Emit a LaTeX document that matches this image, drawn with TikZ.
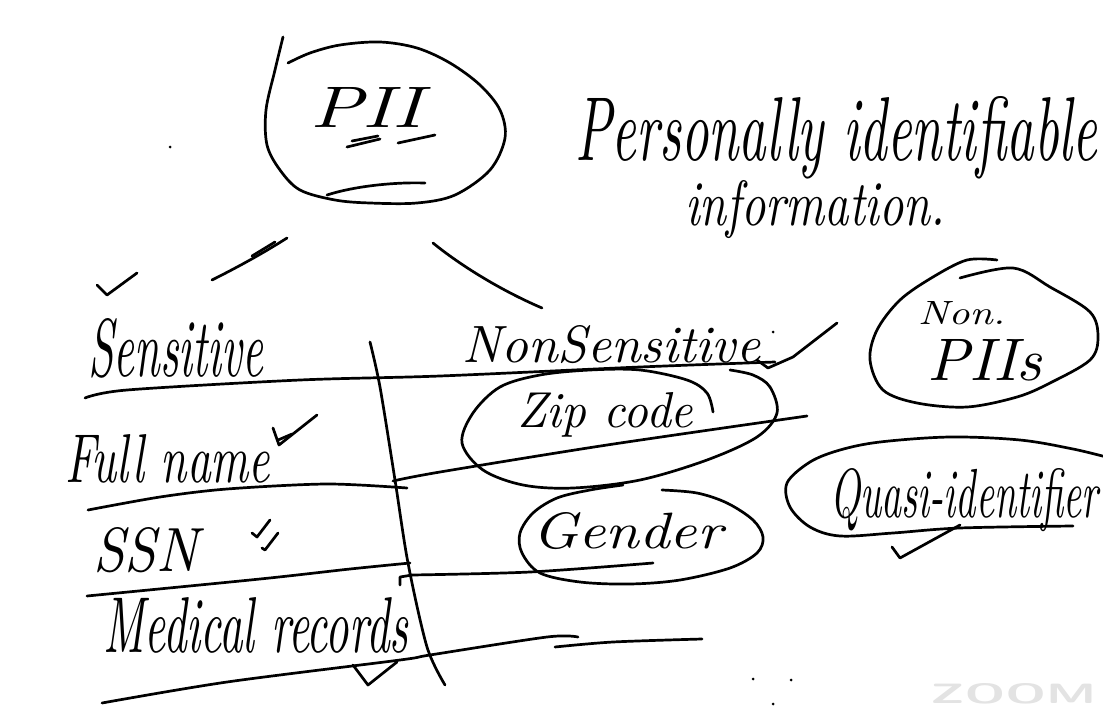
\documentclass[tikz,border=0pt]{standalone}
\usepackage{graphicx}
\usetikzlibrary{positioning}
% word fitted into a box of given width and height (pt)
\newcommand{\scrib}[3]{\resizebox{#1pt}{#2pt}{#3}}
\tikzset{
  ink/.style={line width=2.7pt, line cap=round, line join=round, black},
  word/.style={anchor=base west, inner sep=0pt, font=\itshape},
  wmark/.style={anchor=base west, inner sep=0pt, font=\sffamily\bfseries, text=gray!22},
  speck/.style={fill=black, radius=1.5pt},
}
\begin{document}
\begin{tikzpicture}[x=1pt, y=-1pt]
  \path[use as bounding box, fill=white] (0,0) rectangle (1103,712);
  \clip (0,0) rectangle (1103,712);

  % PII bubble
  \draw[ink] plot[smooth, tension=.55] coordinates {(283,37) (275,70) (266,110) (267,145) (280,170)
    (300,190) (335,200) (370,203) (417,203) (455,195) (490,170) (505,138) (500,110) (480,85)
    (450,63) (417,48) (380,42) (340,45) (310,53) (288,63)};
  \draw[ink] (327,195) .. controls (355,186) and (395,182) .. (425,183);
  \node[word] (pii) at (310,127) {\scrib{112}{40}{PII}};
  \draw[ink] (347,147) -- (380,139);
  \draw[ink] (352,141) -- (378,136);
  \draw[ink] (398,143) -- (435,135);
  \fill[speck] (170,147) circle;

  \node[word] (full) at (575,160) {\scrib{522}{64}{Personally identifiable}};
  \node[word] (info) at (685,225) {\scrib{260}{45}{information.}};

  % branches
  \draw[ink] (212,280) .. controls (240,266) and (265,252) .. (287,238);
  \draw[ink] (252,256) -- (275,242);
  \draw[ink] (97,285) -- (107,295) -- (137,273);
  \draw[ink] (433,243) .. controls (460,265) and (500,290) .. (542,308);

  % table
  \node[word] (sens) at (88,376) {\scrib{175}{58}{Sensitive}};
  \node[word] (nons) at (462,362) {\scrib{298}{37}{NonSensitive}};
  \fill[speck] (773,332) circle;
  \draw[ink] (757,360) -- (768,368) -- (793,357) -- (837,323);
  \draw[ink] plot[smooth] coordinates {(85,398) (127,390) (300,380) (440,376) (640,367) (775,362)};
  \draw[ink] plot[smooth] coordinates {(370,342) (380,387) (395,480) (408,563) (427,647) (445,685)};

  \node[word] (fname) at (65,482) {\scrib{205}{48}{Full name}};
  \draw[ink] (273,428) -- (279,445) -- (317,415);
  \draw[ink] (278,440) -- (292,434);
  \draw[ink] plot[smooth] coordinates {(88,510) (160,497) (227,489) (327,484) (407,488)};
  \draw[ink] plot[smooth] coordinates {(393,481) (440,472) (607,445) (807,416)};

  \node[word] (ssn) at (93,571) {\scrib{105}{44}{SSN}};
  \draw[ink] (252,533) -- (257,537) -- (270,520);
  \draw[ink] (262,548) -- (265,550) -- (278,533);
  \draw[ink] plot[smooth] coordinates {(87,596) (260,579) (350,569) (410,563)};
  \draw[ink] (400,585) -- (400,577) -- (412,575);
  \draw[ink] plot[smooth] coordinates {(412,575) (530,572) (653,563)};

  \node[word] (med) at (103,652) {\scrib{305}{55}{Medical records}};
  \draw[ink] (353,665) -- (368,685) -- (397,662);
  \draw[ink] plot[smooth] coordinates {(102,703) (227,682) (400,660) (430,655) (547,637) (578,637)};
  \draw[ink] plot[smooth] coordinates {(555,647) (613,642) (702,639)};

  % Zip code bubble
  \node[word] (zip) at (517,427) {\scrib{176}{35}{Zip code}};
  \draw[ink] plot[smooth, tension=.55] coordinates {(713,412) (707,393) (687,380) (640,370) (590,370)
    (540,375) (500,387) (473,413) (462,443) (483,470) (523,485) (573,488) (640,480) (707,460)
    (757,437) (777,413) (770,387) (753,375) (730,370)};

  % Gender bubble
  \node[word] (gen) at (532,548) {\scrib{190}{36}{Gender}};
  \draw[ink] plot[smooth, tension=.55] coordinates {(662,490) (697,493) (727,503) (753,520) (763,537)
    (757,553) (730,568) (680,580) (630,584) (580,582) (540,573) (522,553) (520,533) (533,513)
    (557,498) (590,490) (623,485)};

  % Non PIIs bubble
  \node[word] (non) at (918,324) {\scrib{87}{23}{Non.}};
  \node[word] (piis) at (927,380) {\scrib{115}{41}{PIIs}};
  \draw[ink] plot[smooth, tension=.55] coordinates {(960,278) (1013,268) (1050,287) (1090,312)
    (1098,337) (1090,360) (1050,383) (1017,397) (967,407) (917,403) (883,390) (870,360) (877,330)
    (900,300) (933,277) (967,260) (997,260)};

  % Quasi-identifier bubble
  \node[word] (quasi) at (830,517) {\scrib{268}{49}{Quasi-identifier}};
  \draw[ink] plot[smooth, tension=.55] coordinates {(1110,458) (1073,449) (1020,440) (950,437)
    (880,442) (840,450) (810,462) (787,483) (790,507) (810,527) (840,536) (893,533) (960,528)
    (1073,526)};
  \draw[ink] (892,547) -- (900,558) -- (960,525);

  \fill[speck] (753,679) circle;
  \fill[speck] (791,680) circle;
  \fill[speck] (773,704) circle;
  \node[wmark] (zoom) at (930,703) {\scrib{166}{20}{ZOOM}};
\end{tikzpicture}
\end{document}
